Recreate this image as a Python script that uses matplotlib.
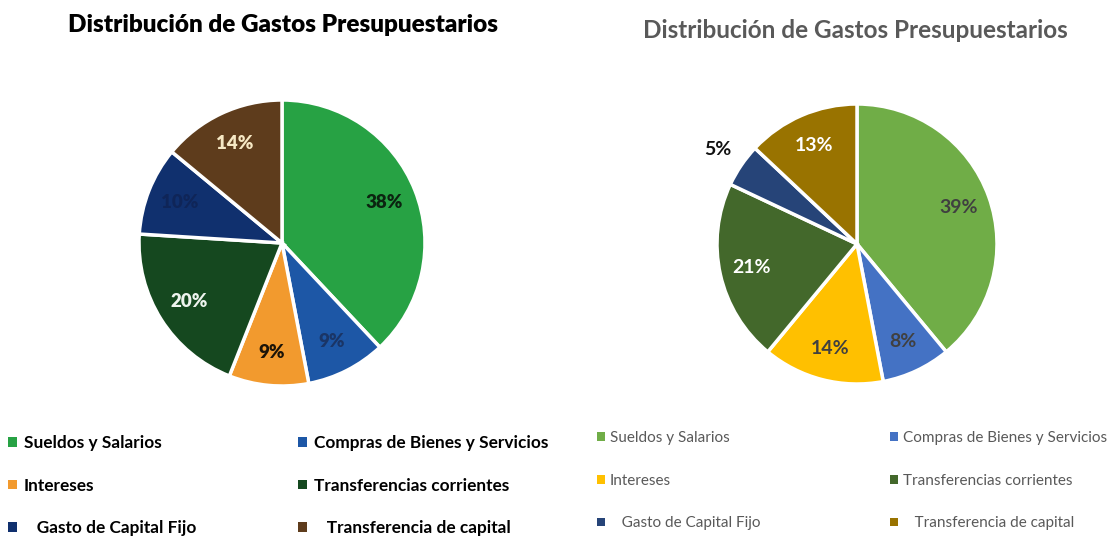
import matplotlib.pyplot as plt
from matplotlib.font_manager import FontProperties

plt.rcParams['font.family'] = ['Lato', 'DejaVu Sans']

categorias = ["Sueldos y Salarios", "Compras de Bienes y Servicios", "Intereses",
              "Transferencias corrientes", "Gasto de Capital Fijo", "Transferencia de capital"]
valores_izq = [38, 9, 9, 20, 10, 14]
valores_der = [39, 8, 14, 21, 5, 13]
titulo = "Distribución de Gastos Presupuestarios"

# colores de cada grafico
colores_izq = ["#27a244", "#1d57a6", "#f29a2e", "#15481f", "#10306e", "#5e3c1c"]
colores_der = ["#70ad47", "#4472c4", "#ffc000", "#43682b", "#264478", "#997300"]
txt_izq = ["#0b2410", "#1a3566", "#1c1408", "#eef4ee", "#0f2558", "#f6e8c4"]
txt_der = ["#404040", "#404040", "#404040", "#ffffff", "#111111", "#ffffff"]

# espacios extra en la ultima fila de la leyenda, como en la imagen
etiquetas_ley = categorias[:4] + ["   " + categorias[4], "   " + categorias[5]]

fig = plt.figure(figsize=(11.2, 5.37), dpi=100)
W, H = 1120, 537


def eje_pie(cx, cy, r):
    return fig.add_axes([(cx - r) / W, 1 - (cy + r) / H, 2 * r / W, 2 * r / H])


def dibuja(ax, valores, colores, colores_txt, fuera=None):
    wedges, textos, autotextos = ax.pie(
        valores, colors=colores, startangle=90, counterclock=False,
        autopct='%1.0f%%', pctdistance=0.77,
        wedgeprops=dict(edgecolor='white', linewidth=2.5))
    for t, c in zip(autotextos, colores_txt):
        t.set_color(c)
    if fuera is not None:
        x, y = autotextos[fuera].get_position()
        autotextos[fuera].set_position((x * 1.2 / 0.77, y * 1.2 / 0.77))
    ax.set_xlim(-1, 1)
    ax.set_ylim(-1, 1)
    ax.set_axis_off()
    return wedges, autotextos


# grafico izquierdo
ax1 = eje_pie(282, 243, 143)
w1, a1 = dibuja(ax1, valores_izq, colores_izq, txt_izq)
for t in a1:
    t.set_fontsize(13.5)
    t.set_fontweight('heavy')
fig.text(283 / W, 1 - 25 / H, titulo, ha='center', va='center',
         fontsize=17.5, fontweight='heavy', color='black')

# grafico derecho
ax2 = eje_pie(857, 244, 140)
w2, a2 = dibuja(ax2, valores_der, colores_der, txt_der, fuera=4)
for t in a2:
    t.set_fontsize(14)
    t.set_fontweight('bold')
fig.text(855 / W, 1 - 31 / H, titulo, ha='center', va='center',
         fontsize=17.5, fontweight='bold', color='#595959')


def leyenda(wedges, idx, x, y, negrita, color, esp, tam, pad):
    fp = FontProperties(family=['Lato', 'DejaVu Sans'], size=tam,
                        weight='bold' if negrita else 'normal')
    leg = fig.legend([wedges[i] for i in idx], [etiquetas_ley[i] for i in idx],
                     loc='upper left', bbox_to_anchor=(x / W, 1 - y / H),
                     frameon=False, prop=fp, borderpad=0, borderaxespad=0,
                     handlelength=0.5, handleheight=0.5, handletextpad=pad,
                     labelspacing=esp)
    for h in leg.legend_handles:
        h.set_edgecolor('none')
    for t in leg.get_texts():
        t.set_color(color)
    return leg


leyenda(w1, [0, 2, 4], 8, 435, True, 'black', 1.55, 12.4, 0.4)
leyenda(w1, [1, 3, 5], 298, 435, True, 'black', 1.55, 12.4, 0.4)
leyenda(w2, [0, 2, 4], 597, 431, False, '#595959', 1.88, 11, 0.35)
leyenda(w2, [1, 3, 5], 890, 431, False, '#595959', 1.88, 11, 0.35)

fig.savefig("out.png", dpi=100)
